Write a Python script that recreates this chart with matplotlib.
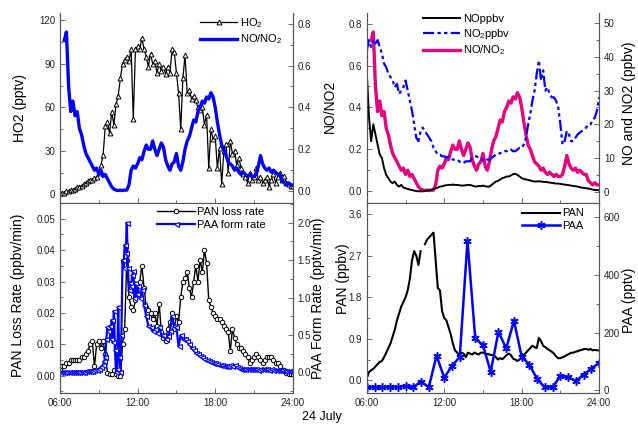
import numpy as np
import matplotlib
matplotlib.use("Agg")
from matplotlib import pyplot as plt
from matplotlib.ticker import AutoMinorLocator, FixedLocator

plt.rcParams.update({
    "font.family": ["Liberation Sans", "DejaVu Sans"],
    "font.size": 8,
    "mathtext.default": "regular",
})

# time grid, hours (10-min sampling, 06:00 .. 24:00)
t10 = np.linspace(6, 24, 109)

# HO2 (pptv)
ho2 = [1, 1, 1, 2, 2, 3,
       3, 4, 5, 5, 6, 7,
       8, 9, 10, 10, 11, 12,
       15, 20, 27, 47, 50, 42,
       57, 48, 62, 68, 80, 90,
       93, 95, 92, 100, 52, 100,
       102, 100, 108, 100, 95, 88,
       97, 90, 92, 84, 90, 85,
       88, 83, 88, 84, 100, 98,
       84, 70, 45, 80, 96, 70,
       72, 66, 68, 65, 60, 58,
       60, 48, 55, 18, 45, 38,
       40, 18, 32, 7, 30, 35,
       15, 37, 28, 30, 20, 25,
       18, 14, 12, 8, 15, 10,
       12, 18, 10, 12, 8, 10,
       12, 5, 10, 14, 8, 12,
       15, 10, 13, 8, 7, 6,
       6]

# NO/NO2 ratio
no_no2 = [np.nan, np.nan, 0.72, 0.76, 0.5, 0.38,
          0.43, 0.36, 0.38, 0.3, 0.27, 0.22,
          0.18, 0.16, 0.14, 0.12, 0.1, 0.11,
          0.08, 0.1, 0.07, 0.08, 0.06, 0.04,
          0.02, 0.01, 0.005, 0.003, 0.005, 0.003,
          0.005, 0.005, 0.03, 0.1, 0.12, 0.11,
          0.13, 0.16, 0.15, 0.19, 0.22, 0.2,
          0.2, 0.24, 0.2, 0.17, 0.2, 0.23,
          0.21, 0.15, 0.12, 0.1, 0.13, 0.14,
          0.18, 0.12, 0.1, 0.14, 0.2, 0.24,
          0.26, 0.3, 0.34, 0.33, 0.38, 0.4,
          0.43, 0.42, 0.45, 0.44, 0.47, 0.45,
          0.4, 0.33, 0.27, 0.22, 0.2, 0.17,
          0.14, 0.13, 0.12, 0.1, 0.11, 0.09,
          0.08, 0.09, 0.08, 0.07, 0.08, 0.07,
          0.07, 0.08, 0.12, 0.17, 0.13, 0.11,
          0.1, 0.11, 0.09, 0.1, 0.09, 0.08,
          0.08, 0.05, 0.04, 0.03, 0.04, 0.03,
          0.03]

# NO (ppbv)
no = [35, 22, 15, 20, 17, 14,
      11, 10, 7, 5, 4, 3,
      2.5, 3, 2, 1.5, 2, 1.2,
      1.0, 0.8, 0.6, 0.5, 0.3, 0.2,
      0.1, 0.1, 0.1, 0.2, 0.3, 0.4,
      0.5, 0.8, 1.0, 1.2, 1.5, 1.6,
      1.8, 1.9, 2.0, 2.0, 2.1, 2.0,
      2.0, 1.9, 1.8, 1.8, 1.9, 2.0,
      2.0, 1.8, 1.6, 1.5, 1.7, 1.6,
      1.8, 1.6, 1.5, 1.5, 2.0, 2.5,
      3.0, 3.2, 3.6, 4.0, 4.2, 4.5,
      4.5, 4.8, 5.2, 5.3, 5.0, 4.5,
      4.0, 3.8, 3.6, 3.5, 3.3, 3.1,
      3.0, 3.0, 3.1, 3.0, 2.9, 2.9,
      2.8, 2.7, 2.6, 2.5, 2.4, 2.4,
      2.3, 2.2, 2.1, 2.0, 1.9, 1.8,
      1.7, 1.6, 1.5, 1.3, 1.2, 1.1,
      1.0, 0.9, 0.8, 0.6, 0.5, 0.5,
      0.4]

# NO2 (ppbv)
no2 = [42, 45, 43, 45, 44, 45,
       43, 41, 38, 37, 35, 34,
       33, 31, 32, 29, 30, 31,
       33, 30, 27, 24, 20, 16,
       15, 18, 19, 18, 17, 16,
       15, 13, 12, 11, 11, 10.5,
       10.5, 10, 10.5, 10, 9.5, 9.5,
       9.5, 9, 8.5, 8.5, 9, 9,
       9, 10, 10.5, 10.5, 10, 9.5,
       9.5, 10, 9.5, 9.5, 10, 10.5,
       11, 11, 11.5, 11.5, 12, 12,
       12.5, 12.5, 12, 12, 12.5, 13,
       13, 14, 16, 20, 23, 27,
       30, 35, 39, 33, 36, 30,
       31, 29, 28, 28, 27, 25,
       20, 14, 15, 18, 17, 15,
       15, 16, 17, 17.5, 18, 18.5,
       19, 20, 20, 21, 22, 24,
       28]

# PAN loss rate (ppbv/min)
pan_loss = [0.002, 0.003, 0.003, 0.004, 0.004, 0.005,
            0.005, 0.005, 0.005, 0.005, 0.006, 0.006,
            0.007, 0.008, 0.010, 0.011, 0.003, 0.010,
            0.011, 0.009, 0.011, 0.007, 0.001, 0.0005,
            0.0005, 0.002, 0.0005, 0.0, 0.0, 0.010,
            0.015, 0.037, 0.025, 0.022, 0.021, 0.024,
            0.026, 0.030, 0.035, 0.028, 0.022, 0.021,
            0.020, 0.018, 0.020, 0.016, 0.023, 0.014,
            0.012, 0.011, 0.015, 0.017, 0.020, 0.015,
            0.019, 0.017, 0.025, 0.030, 0.031, 0.033,
            0.028, 0.025, 0.030, 0.035, 0.030, 0.037,
            0.033, 0.040, 0.036, 0.024, 0.022, 0.020,
            0.019, 0.018, 0.018, 0.017, 0.016, 0.015,
            0.014, 0.008, 0.015, 0.012, 0.010, 0.009,
            0.009, 0.008, 0.007, 0.006, 0.004, 0.005,
            0.006, 0.007, 0.006, 0.005, 0.004, 0.005,
            0.006, 0.006, 0.006, 0.005, 0.004, 0.004,
            0.003, 0.002, 0.002, 0.001, 0.0005, 0.0005,
            0.0005]

# PAA formation rate (pptv/min): 10-min early, 5-min spikes, 10-min late
paa_rate_t = np.concatenate([np.linspace(6, 9 + 1 / 3, 21),
                             np.linspace(9 + 5 / 12, 11 + 11 / 12, 31),
                             np.linspace(12, 24, 73)])
paa_rate = [0.0, 0.0, 0.0, 0.0, 0.0, 0.0,
            0.0, 0.005, 0.005, 0.01, 0.01, 0.01,
            0.015, 0.02, 0.02, 0.025, 0.03, 0.035,
            0.05, 0.07, 0.1,
            0.15, 0.2, 0.45, 0.6, 0.55, 0.62, 0.45, 0.7, 0.4, 0.82, 0.3, 0.0,
            0.05, 0.88, 0.2, 0.0, 0.5, 1.5, 1.4, 1.7, 1.6, 2.0, 1.4, 1.1,
            1.2, 1.15, 1.3, 1.35, 1.0, 1.2, 1.05,
            1.15, 1.0, 1.1, 0.9, 0.75, 0.62,
            0.6, 0.55, 0.58, 0.52, 0.6, 0.5,
            0.5, 0.45, 0.48, 0.55, 0.75, 0.62,
            0.6, 0.35, 0.5, 0.45, 0.45, 0.42,
            0.38, 0.32, 0.3, 0.26, 0.24, 0.22,
            0.2, 0.18, 0.17, 0.15, 0.14, 0.13,
            0.12, 0.11, 0.1, 0.1, 0.09, 0.08,
            0.08, 0.1, 0.09, 0.1, 0.07, 0.06,
            0.05, 0.05, 0.04, 0.04, 0.05, 0.04,
            0.04, 0.04, 0.03, 0.04, 0.04, 0.04,
            0.04, 0.03, 0.04, 0.03, 0.03, 0.03,
            0.03, 0.03, 0.02, 0.02, 0.02, 0.02,
            0.02]

# PAN (ppbv)
pan = [0.05, 0.18, 0.22, 0.25, 0.3, 0.35,
       0.4, 0.42, 0.5, 0.6, 0.7, 0.8,
       0.95, 1.1, 1.3, 1.45, 1.6, 1.7,
       1.8, 1.95, 2.2, 2.6, 2.8, 2.7,
       2.5, 2.8, np.nan, 2.95, 3.05, 3.1,
       3.15, 3.2, 2.6, 2.0, 1.95, 1.5,
       1.35, 1.3, 1.15, 1.0, 0.8, 0.65,
       0.6, 0.55, 0.6, 0.58, 0.5, 0.6,
       0.58, 0.56, 0.6, 0.58, 0.56, 0.6,
       0.6, 0.58, 0.57, 0.56, 0.55, 0.55,
       0.5, 0.45, 0.48, 0.46, 0.5, 0.55,
       0.58, 0.55, 0.47, 0.45, 0.42, 0.45,
       0.5, 0.55, 0.6, 0.65, 0.7, 0.75,
       0.72, 0.7, 0.92, 0.85, 0.75, 0.72,
       0.68, 0.65, 0.62, 0.58, 0.52, 0.48,
       0.48, 0.5, 0.52, 0.55, 0.57, 0.6,
       0.6, 0.62, 0.63, 0.65, 0.66, 0.68,
       0.68, 0.66, 0.68, 0.65, 0.66, 0.65,
       0.65]

# PAA (pptv), ~36 min sampling
paa_t = np.linspace(6, 24, 31)
paa = [10, 10, 10, 12, 10, 15, 10, 30, 10, 120, 43, 85, 115, 519, 180, 156,
       64, 203, 145, 241, 116, 89, 38, 10, 10, 50, 45, 32, 54, 75, 95]

x_ticks = [6, 12, 18, 24]
x_labels = ["06:00", "12:00", "18:00", "24:00"]

MAGENTA = "#E4007F"
SPINE = "#555555"


def style(ax, show_x):
    ax.set_xlim(6, 24)
    ax.xaxis.set_major_locator(FixedLocator(x_ticks))
    ax.xaxis.set_minor_locator(FixedLocator([9, 15, 21]))
    if show_x:
        ax.set_xticklabels(x_labels)
    else:
        ax.set_xticklabels([])
    ax.yaxis.set_minor_locator(AutoMinorLocator(2))
    ax.tick_params(which="both", direction="in", colors=SPINE,
                   labelcolor="#222222", labelsize=7, width=0.6)
    ax.tick_params(which="major", length=3.5)
    ax.tick_params(which="minor", length=2)
    ax.spines["top"].set_visible(False)
    for s in ax.spines.values():
        s.set_color(SPINE)
        s.set_linewidth(0.8)


fig = plt.figure(figsize=(6.38, 4.24), dpi=100)
ax1 = fig.add_axes([0.094, 0.521, 0.365, 0.448])
ax2 = fig.add_axes([0.575, 0.521, 0.364, 0.448])
ax3 = fig.add_axes([0.094, 0.073, 0.365, 0.448])
ax4 = fig.add_axes([0.575, 0.073, 0.364, 0.448])

leg_kw = dict(frameon=False, fontsize=8, borderpad=0, borderaxespad=0,
              handlelength=3.4, handletextpad=0.25, labelspacing=0.25,
              numpoints=1, loc="upper left")

# --- top left: HO2 and NO/NO2
ax1b = ax1.twinx()
l1, = ax1.plot(t10, ho2, color="black", lw=0.9, marker="^", ms=3.5,
               mfc="white", mec="black", mew=0.7)
l2, = ax1b.plot(t10, no_no2, color="#0000FF", lw=2.4)
ax1.set_ylim(-6, 125)
ax1.set_yticks([0, 30, 60, 90, 120])
ax1b.set_ylim(-0.057, 0.85)
ax1b.set_yticks([0.0, 0.2, 0.4, 0.6, 0.8])
ax1b.set_yticklabels(["0.0", "0.2", "0.4", "0.6", "0.8"])
ax1.set_ylabel("HO2 (pptv)", fontsize=10)
ax1.yaxis.set_label_coords(-0.142, 0.5)
style(ax1, False)
style(ax1b, False)
ax1b.legend([l1, l2], ["HO$_2$", "NO/NO$_2$"],
            bbox_to_anchor=(0.60, 0.985), **leg_kw)

# --- top right: NO/NO2 and NO, NO2
ax2b = ax2.twinx()
m1, = ax2.plot(t10, no_no2, color=MAGENTA, lw=2.4)
n1, = ax2b.plot(t10, no, color="black", lw=1.4)
n2, = ax2b.plot(t10, no2, color="#0000FF", lw=1.6,
                dashes=(5, 1.5, 1.5, 1.5, 1.5, 1.5))
ax2.set_ylim(-0.057, 0.85)
ax2.set_yticks([0.0, 0.2, 0.4, 0.6, 0.8])
ax2.set_yticklabels(["0.0", "0.2", "0.4", "0.6", "0.8"])
ax2b.set_ylim(-3.4, 53)
ax2b.set_yticks([0, 10, 20, 30, 40, 50])
ax2.set_ylabel("NO/NO2", fontsize=10)
ax2.yaxis.set_label_coords(-0.129, 0.51)
ax2b.set_ylabel("NO and NO2 (ppbv)", fontsize=10)
ax2b.yaxis.set_label_coords(1.1, 0.527)
style(ax2, False)
style(ax2b, False)
ax2b.legend([n1, n2, m1], ["NOppbv", "NO$_2$ppbv", "NO/NO$_2$"],
            bbox_to_anchor=(0.24, 0.995), **leg_kw)

# --- bottom left: PAN loss rate and PAA form rate
ax3b = ax3.twinx()
p1, = ax3.plot(t10, pan_loss, color="black", lw=1.0, marker="o", ms=3.2,
               mfc="white", mec="black", mew=0.7)
p2, = ax3b.plot(paa_rate_t, paa_rate, color="#0000FF", lw=1.6, marker="<",
                ms=3.6, mfc="white", mec="#0000FF", mew=0.8)
ax3.set_ylim(-0.0055, 0.055)
ax3.set_yticks([0.0, 0.01, 0.02, 0.03, 0.04, 0.05])
ax3.set_yticklabels(["0.00", "0.01", "0.02", "0.03", "0.04", "0.05"])
ax3b.set_ylim(-0.275, 2.26)
ax3b.set_yticks([0.0, 0.5, 1.0, 1.5, 2.0])
ax3b.set_yticklabels(["0.0", "0.5", "1.0", "1.5", "2.0"])
ax3.set_ylabel("PAN Loss Rate (ppbv/min)", fontsize=10)
ax3.yaxis.set_label_coords(-0.150, 0.516)
ax3b.set_ylabel("PAA Form Rate (pptv/min)", fontsize=10)
ax3b.yaxis.set_label_coords(1.08, 0.5)
style(ax3, True)
style(ax3b, True)
ax3b.legend([p1, p2], ["PAN loss rate", "PAA form rate"],
            bbox_to_anchor=(0.416, 0.978), **leg_kw)

# --- bottom right: PAN and PAA
ax4b = ax4.twinx()
q1, = ax4.plot(t10, pan, color="black", lw=1.5)
q2, = ax4b.plot(paa_t, paa, color="#0000FF", lw=1.8, marker=(6, 2, 0),
                ms=6, mec="#0000FF", mew=1.1)
ax4.set_ylim(-0.275, 3.84)
ax4.set_yticks([0.0, 0.9, 1.8, 2.7, 3.6])
ax4.set_yticklabels(["0.0", "0.9", "1.8", "2.7", "3.6"])
ax4b.set_ylim(-10, 650)
ax4b.set_yticks([0, 200, 400, 600])
ax4.set_ylabel("PAN (ppbv)", fontsize=10)
ax4.yaxis.set_label_coords(-0.073, 0.6)
ax4b.set_ylabel("PAA (pptv)", fontsize=10)
ax4b.yaxis.set_label_coords(1.1, 0.49)
style(ax4, True)
style(ax4b, True)
ax4b.legend([q1, q2], ["PAN", "PAA"],
            bbox_to_anchor=(0.668, 0.972), **leg_kw)

fig.text(0.505, 0.003, "24 July", ha="center", va="bottom", fontsize=9)

fig.savefig("out.png", dpi=100)
